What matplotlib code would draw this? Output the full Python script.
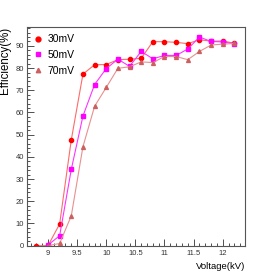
import matplotlib
matplotlib.use("Agg")
import matplotlib.pyplot as plt
from matplotlib.lines import Line2D
from matplotlib.ticker import MultipleLocator

# -----------------------------
# data
# -----------------------------
v30 = [8.8, 9.0, 9.2, 9.4, 9.6, 9.8, 10.0, 10.2, 10.4, 10.6, 10.8, 11.0, 11.2, 11.4, 11.6, 11.8, 12.0, 12.2]
e30 = [0.0, 0.0, 9.8, 47.7, 77.3, 81.5, 81.6, 83.8, 84.0, 84.4, 91.9, 91.9, 91.6, 91.0, 92.8, 92.1, 92.2, 91.2]

v50 = [9.0, 9.2, 9.4, 9.6, 9.8, 10.0, 10.2, 10.4, 10.6, 10.8, 11.0, 11.2, 11.4, 11.6, 11.8, 12.0, 12.2]
e50 = [0.3, 4.5, 34.4, 58.4, 72.6, 79.8, 84.0, 80.8, 87.5, 84.2, 85.7, 85.7, 88.6, 94.0, 92.0, 91.8, 91.0]

v70 = [9.0, 9.2, 9.4, 9.6, 9.8, 10.0, 10.2, 10.4, 10.6, 10.8, 11.0, 11.2, 11.4, 11.6, 11.8, 12.0, 12.2]
e70 = [0.0, 1.0, 13.5, 44.6, 62.8, 71.3, 79.9, 80.6, 82.8, 82.5, 85.2, 85.2, 83.8, 87.5, 90.4, 90.8, 91.1]

labels = ["30mV", "50mV", "70mV"]

plt.rcParams["font.family"] = ["Liberation Sans", "DejaVu Sans"]

fig = plt.figure(figsize=(2.73, 2.73), dpi=100)
ax = fig.add_axes([0.099, 0.1, 0.798, 0.801])

ax.plot(v30, e30, color="#ff6a6a", lw=0.8, marker="o", ms=3.0,
        mfc="#ff0000", mec="#ff0000")
ax.plot(v50, e50, color="#ff33ff", lw=0.8, marker="s", ms=2.8,
        mfc="#ff00ff", mec="#ff00ff")
ax.plot(v70, e70, color="#e89090", lw=0.8, marker="^", ms=2.8,
        mfc="#cc6060", mec="#cc6060")

ax.set_xlim(8.64, 12.38)
ax.set_ylim(0, 98.5)

# ROOT-like axes: ticks inside, minor ticks
ax.xaxis.set_major_locator(MultipleLocator(0.5))
ax.xaxis.set_minor_locator(MultipleLocator(0.1))
ax.yaxis.set_major_locator(MultipleLocator(10))
ax.yaxis.set_minor_locator(MultipleLocator(2))
ax.xaxis.set_major_formatter(plt.FuncFormatter(lambda v, p: f"{v:g}"))
ax.tick_params(which="both", direction="in", top=False, right=False,
               labelsize=5.5, colors="#333333", width=0.6)
ax.tick_params(which="major", length=5)
ax.tick_params(which="minor", length=2.5)
ax.tick_params(axis="x", pad=3)
ax.tick_params(axis="y", pad=2)
for s in ax.spines.values():
    s.set_color("#555555")
    s.set_linewidth(0.8)

ax.set_xlabel("Voltage(kV)", fontsize=6.8, loc="right", labelpad=4)
ax.set_ylabel("Efficiency(%)", fontsize=8.3, loc="top")
ax.yaxis.set_label_coords(-0.072, 1.0)

handles = [
    Line2D([], [], ls="none", marker="o", ms=3.5, color="#ff0000"),
    Line2D([], [], ls="none", marker="s", ms=3.5, color="#ff00ff"),
    Line2D([], [], ls="none", marker="^", ms=3.2, color="#cc6060"),
]
ax.legend(handles, labels, loc="upper left", bbox_to_anchor=(0.0, 1.0),
          frameon=False, fontsize=7.5, handlelength=0.8, handletextpad=0.5,
          labelspacing=0.55, borderaxespad=0.3)

fig.savefig("out.png", dpi=100, facecolor="white")
